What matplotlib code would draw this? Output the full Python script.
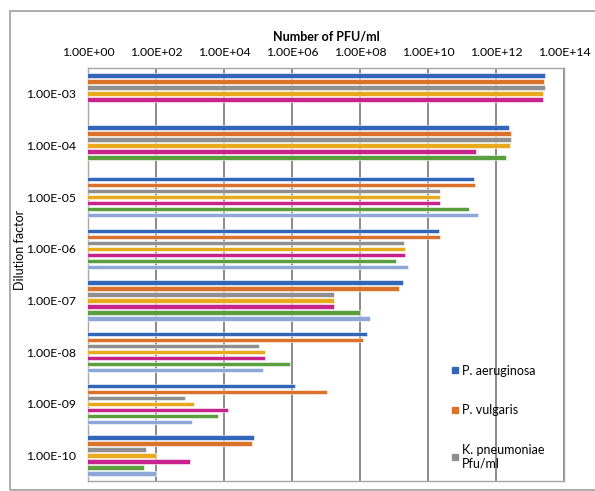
import numpy as np
import matplotlib.pyplot as plt
from matplotlib.lines import Line2D
from matplotlib.patches import Rectangle
from matplotlib.ticker import FuncFormatter, FixedLocator

plt.rcParams['font.family'] = ['Lato', 'DejaVu Sans']

dilutions = ['1.00E-03', '1.00E-04', '1.00E-05', '1.00E-06',
             '1.00E-07', '1.00E-08', '1.00E-09', '1.00E-10']

# PFU/ml per series (nan = no bar)
s1 = [2.75e13, 2.35e12, 2.2e11, 2.05e10, 1.85e9, 1.6e8, 1.25e6, 7.6e4]
s2 = [2.55e13, 2.75e12, 2.35e11, 2.3e10, 1.4e9, 1.25e8, 1.05e7, 6.8e4]
s3 = [2.8e13, 2.75e12, 2.3e10, 2.0e9, 1.7e7, 1.1e5, 720, 52]
s4 = [2.45e13, 2.5e12, 2.3e10, 2.15e9, 1.7e7, 1.6e5, 1300, 98]
s5 = [2.4e13, 2.5e11, 2.3e10, 2.15e9, 1.7e7, 1.6e5, 1.3e4, 980]
s6 = [np.nan, 1.95e12, 1.55e11, 1.15e9, 1.0e8, 8.7e5, 6500, 45]
s7 = [np.nan, np.nan, 2.9e11, 2.5e9, 1.95e8, 1.4e5, 1150, 98]

series = [s1, s2, s3, s4, s5, s6, s7]
legend_names = ['P. aeruginosa', 'P. vulgaris', 'K. pneumoniae\nPfu/ml']
colors = ['#3366b8', '#db722c', '#8f8f8f', '#e8aa1c', '#c8228c', '#5a9e3e', '#8ea6d8']

fig = plt.figure(figsize=(5.95, 4.91), dpi=100)
ax = fig.add_axes([0.148, 0.0196, 0.8, 0.8424])

y = np.arange(len(dilutions))
step = 0.116
for j, (vals, c) in enumerate(zip(series, colors)):
    ax.barh(y + (j - 3) * step, vals, height=0.085, color=c,
            edgecolor='white', linewidth=0.4, zorder=3)

ax.set_xscale('log')
ax.set_xlim(1, 1e14)
ax.set_ylim(7.5, -0.5)
ticks = [10.0 ** k for k in range(0, 15, 2)]
ax.xaxis.set_major_locator(FixedLocator(ticks))
ax.xaxis.set_minor_locator(FixedLocator([]))
ax.xaxis.set_major_formatter(FuncFormatter(lambda v, p: f"{v:.2E}"))
ax.xaxis.tick_top()
ax.xaxis.set_label_position('top')
ax.set_xlabel('Number of PFU/ml', fontsize=9, fontweight='bold', labelpad=5)
ax.set_yticks(y)
ax.set_yticklabels(dilutions)
ax.set_ylabel('Dilution factor', fontsize=9)
ax.yaxis.set_label_coords(-0.13, 0.56)
ax.tick_params(axis='both', length=0, labelsize=8.8)
ax.tick_params(axis='y', pad=9)
ax.tick_params(axis='x', pad=7)
ax.grid(axis='x', color='#8a8a8a', linewidth=1.4, zorder=0)
for sp in ax.spines.values():
    sp.set_color('#a6a6a6')
    sp.set_linewidth(1.0)

handles = [Line2D([], [], marker='s', ls='', markersize=4, color=c)
           for c in colors[:3]]
fig.legend(handles, legend_names, loc='upper left',
           bbox_to_anchor=(0.737, 0.28), frameon=False, fontsize=9,
           labelspacing=2.2, handletextpad=0.2, handlelength=0.8)

fig.patches.append(Rectangle((0.017, 0.002), 0.99, 0.975, transform=fig.transFigure,
                             fill=False, edgecolor='#a0a0a0', linewidth=1.2))

fig.savefig('out.png', dpi=100)
